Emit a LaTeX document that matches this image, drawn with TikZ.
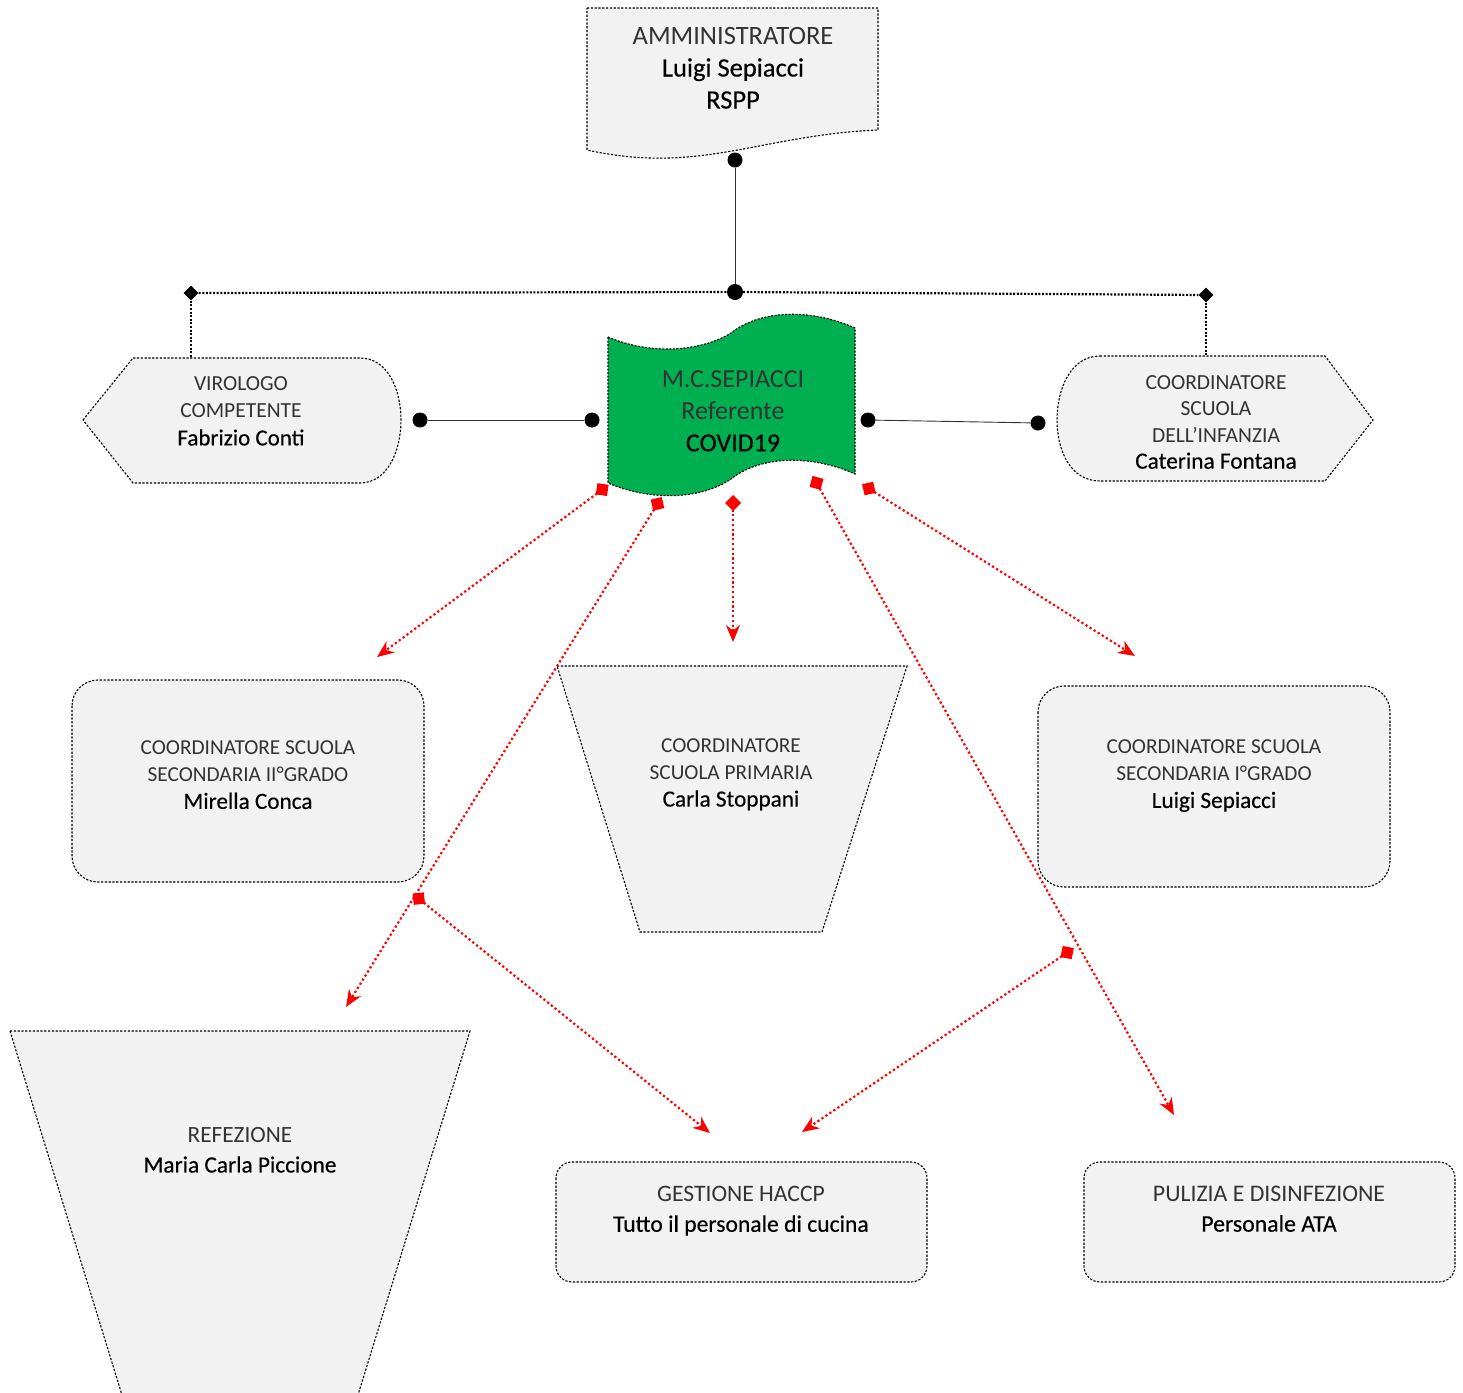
\documentclass[tikz,border=0pt]{standalone}
\usepackage{fontspec}
\setmainfont{Carlito}
\newfontfamily\namefont[FakeBold=0.35]{Carlito}
\usetikzlibrary{arrows.meta,shapes.geometric}
\definecolor{boxgray}{HTML}{F2F2F2}
\definecolor{flaggreen}{HTML}{00B050}
\tikzset{
  box/.style={fill=boxgray, draw=black, line width=1.1pt, dash pattern=on 2.2pt off 1.6pt},
  flag/.style={fill=flaggreen, draw=black, line width=1.1pt, dash pattern=on 2pt off 1.5pt},
  lbl/.style={align=center, inner sep=0pt, text=black!80},
  dotnode/.style={circle, fill=black, inner sep=0pt, minimum size=15pt},
  bigdot/.style={circle, fill=black, inner sep=0pt, minimum size=16pt},
  diam/.style={diamond, fill=black, inner sep=0pt, minimum size=15pt},
  solidline/.style={draw=black!80, line width=0.9pt},
  blackdots/.style={draw=black, line width=2.2pt, dash pattern=on 2pt off 1.6pt},
  redarrow/.style={draw=red, line width=2.2pt, dash pattern=on 2.2pt off 2.6pt, shorten <=-7pt,
    {Turned Square[length=16pt,width=16pt,fill=red]}-{Stealth[length=17pt,width=14pt,fill=red]}}
}
\newcommand{\nm}[1]{{\namefont\color{black}#1}}
\begin{document}
\begin{tikzpicture}[x=1pt,y=-1pt]
\useasboundingbox (0,0) rectangle (1463,1392);

% ---------- shapes ----------
% top document
\path[box] (587,8) -- (878,8) -- (878,130) .. controls (760,135) and (700,175) .. (587,150) -- cycle;
% green flag
\path[flag] (608,337) .. controls (650,355) and (700,352) .. (731,333)
  .. controls (760,310) and (810,308) .. (855,328) -- (855,474)
  .. controls (810,454) and (760,456) .. (731,479)
  .. controls (700,500) and (650,501) .. (608,483) -- cycle;
% virologo
\path[box] (83,420) -- (133,358) -- (360,358) .. controls (388,358) and (401,390) .. (401,420)
  .. controls (401,450) and (388,483) .. (360,483) -- (133,483) -- cycle;
% infanzia
\path[box] (1100,356) -- (1325,356) -- (1373,420) -- (1325,481) -- (1100,481)
  .. controls (1070,481) and (1057,450) .. (1057,420) .. controls (1057,390) and (1070,356) .. (1100,356) -- cycle;
% rounded boxes
\path[box, rounded corners=26pt] (72,680) rectangle (424,882);
\path[box, rounded corners=26pt] (1038,686) rectangle (1390,887);
\path[box, rounded corners=16pt] (556,1162) rectangle (927,1282);
\path[box, rounded corners=16pt] (1084,1162) rectangle (1455,1282);
% trapezoids
\path[box] (557,666) -- (907,666) -- (822,932) -- (640,932) -- cycle;
\path[box] (10,1031) -- (470,1031) -- (358,1395) -- (122,1395) -- cycle;

% ---------- texts ----------
\node[lbl, font=\fontsize{26.5}{32}\selectfont] (tAdm) at (733,68)
  {AMMINISTRATORE\\\nm{Luigi Sepiacci}\\\nm{RSPP}};
\node[lbl, font=\fontsize{26}{32}\selectfont] (tRef) at (733,411)
  {M.C.SEPIACCI\\Referente\\\nm{COVID19}};
\node[lbl, font=\fontsize{23}{27.5}\selectfont] (tVir) at (241,411)
  {\fontsize{21.5}{27.5}\selectfont VIROLOGO\\\fontsize{21.5}{27.5}\selectfont COMPETENTE\\\nm{Fabrizio Conti}};
\node[lbl, font=\fontsize{23.3}{26.5}\selectfont] (tInf) at (1216,422)
  {\fontsize{21.5}{26.5}\selectfont COORDINATORE\\\fontsize{21.5}{26.5}\selectfont SCUOLA\\\fontsize{21.5}{26.5}\selectfont DELL’INFANZIA\\\nm{Caterina Fontana}};
\node[lbl, font=\fontsize{23.2}{27}\selectfont] (tSec2) at (248,775)
  {\fontsize{21.3}{27}\selectfont COORDINATORE SCUOLA\\\fontsize{21.3}{27}\selectfont SECONDARIA II°GRADO\\\nm{Mirella Conca}};
\node[lbl, font=\fontsize{23.2}{27}\selectfont] (tPrim) at (731,774.5)
  {\fontsize{21.3}{27}\selectfont COORDINATORE\\\fontsize{21.3}{27}\selectfont SCUOLA PRIMARIA\\\nm{Carla Stoppani}};
\node[lbl, font=\fontsize{23.2}{27}\selectfont] (tSec1) at (1214,776)
  {\fontsize{21.3}{27}\selectfont COORDINATORE SCUOLA\\\fontsize{21.3}{27}\selectfont SECONDARIA I°GRADO\\\nm{Luigi Sepiacci}};
\node[lbl, font=\fontsize{23.3}{30}\selectfont] (tRefez) at (240,1150)
  {REFEZIONE\\\nm{Maria Carla Piccione}};
\node[lbl, font=\fontsize{23.6}{30}\selectfont] (tHaccp) at (741,1211)
  {GESTIONE HACCP\\\nm{Tutto il personale di cucina}};
\node[lbl, font=\fontsize{23.8}{30}\selectfont] (tPul) at (1269,1209)
  {PULIZIA E DISINFEZIONE\\\nm{Personale ATA}};

% ---------- black connectors ----------
\node[dotnode] (dDoc) at (735,160) {};
\node[bigdot] (hub) at (735,292) {};
\node[diam] (dL) at (191,293) {};
\node[diam] (dR) at (1206,295) {};
\coordinate (virTop) at (191,358);
\coordinate (infTop) at (1206,356);
\draw[solidline] (dDoc) -- (hub);
\draw[blackdots] (dL) -- (hub) -- (dR);
\draw[blackdots] (dL) -- (virTop);
\draw[blackdots] (dR) -- (infTop);

\node[dotnode] (vR) at (420,420) {};
\node[dotnode] (fL) at (592,420) {};
\node[dotnode] (fR) at (868,420) {};
\node[dotnode] (iL) at (1038,423) {};
\draw[solidline] (vR) -- (fL);
\draw[solidline] (fR) -- (iL);

% ---------- red arrows ----------
\coordinate (s1) at (603,489); \coordinate (e1) at (377,657);
\coordinate (s2) at (658,503); \coordinate (e2) at (346,1007);
\coordinate (s3) at (733,502); \coordinate (e3) at (733,642);
\coordinate (s4) at (816,482); \coordinate (e4) at (1174,1115);
\coordinate (s5) at (868,488); \coordinate (e5) at (1135,656);
\coordinate (s6) at (418,898); \coordinate (e6) at (710,1133);
\coordinate (s7) at (1068,952); \coordinate (e7) at (802,1132);
\foreach \i in {1,...,7} {\draw[redarrow] (s\i) -- (e\i);}
\end{tikzpicture}
\end{document}
